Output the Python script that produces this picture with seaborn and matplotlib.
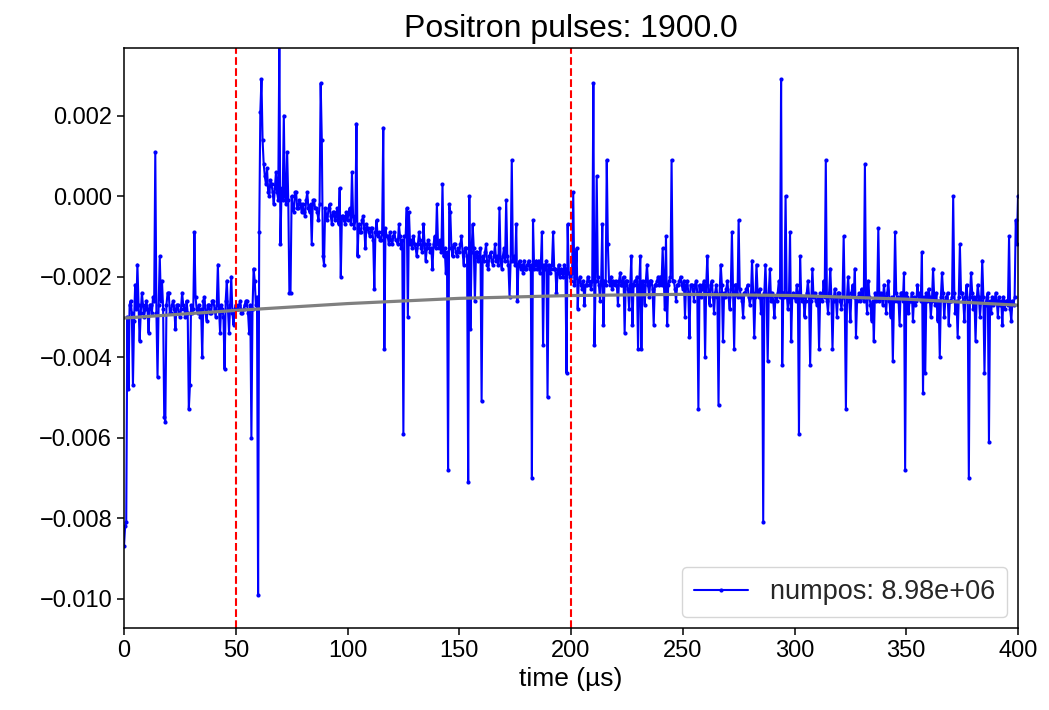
import numpy as np
import pandas as pd
import matplotlib
matplotlib.use("Agg")
import matplotlib.pyplot as plt
import seaborn as sns

# ---- data (signal values in units of 1e-4, one row = 10 us, step 0.5 us) ----
time_us = np.arange(0, 400.5, 0.5)
signal_e4 = [
    -87, -82, -81, -30, -48, -27, -26, -29, -47, -31, -22, -28, -17, -27, -36, -29, -24, -27, -30, -28,
    -26, -28, -34, -27, -27, -29, -25, -26, 11, -29, -45, -27, -15, -26, -21, -28, -55, -56, -27, -24,
    -24, -29, -29, -27, -26, -28, -33, -27, -27, -29, -30, -28, -24, -27, -28, -30, -26, -29, -53, -47,
    -27, -29, -28, -9, -25, -28, -29, -27, -30, -28, -40, -26, -25, -29, -31, -27, -27, -29, -29, -26,
    -26, -28, -30, -27, -17, -28, -34, -27, -28, -30, -43, -26, -21, -28, -34, -27, -20, -29, -32, -28,
    -27, -28, -28, -27, -26, -29, -29, -28, -27, -26, -26, -29, -34, -27, -60, -28, -18, -21, -27, -25,
    -99, -9, 21, 29, 14, 8, 5, 3, 7, 1, 0, 4, 3, 1, -2, 2, 6, 1, -1, 38,
    -12, 2, -1, 20, 0, -2, 11, -1, -24, -24, 0, -3, -4, 1, 1, -3, -3, -1, -2, -4,
    -2, -4, -5, -1, 1, -3, -4, -2, -12, -1, -1, -3, -3, -4, -6, -2, 28, 14, -15, -17,
    -3, -5, -6, -3, -2, -5, -7, -4, -4, -6, -5, -3, -7, 2, -20, -5, -5, -6, -7, -4,
    -6, -4, -3, -7, 6, -5, -8, -6, 18, -15, -7, -9, -9, -6, -5, -8, -13, -7, -8, -9,
    -10, -8, -8, -11, -23, -9, -6, -10, -9, -11, -11, -9, 17, -38, -8, -10, -10, -12, -9, -11,
    -12, -10, -9, -11, -11, -12, -7, -10, -13, -11, -59, -10, -10, -3, -30, -4, -12, -11, -13, -10,
    -12, -13, -15, -12, -9, -11, -13, -14, -7, -12, -16, -13, -11, -12, -14, -13, -18, -12, -10, -13,
    -2, -12, -13, -11, -14, 3, -15, -13, -19, -14, -68, -2, -4, -13, -15, -12, -12, -14, -15, -13,
    -14, -12, -10, -14, -17, -13, -13, -15, -71, 0, -33, -14, -7, -13, -26, -14, -14, -16, -15, -13,
    -51, -15, -16, -14, -12, -17, -18, -15, -14, -16, -17, -15, -12, -16, -15, -17, -3, -16, -18, -15,
    -13, -16, -1, -15, -17, -25, -16, 9, -16, -15, -17, -7, -26, -17, -16, -18, -17, -19, -16, -18,
    -18, -17, -16, -18, -17, -70, -6, -18, -17, -16, -18, -16, -19, -17, -9, -37, -17, -18, -16, -50,
    -17, -19, -18, -17, -9, -18, -18, -24, -19, -17, -20, -18, -19, -20, -17, -18, -44, -7, -19, -20,
    -21, -19, 1, -22, -20, -13, -28, -21, -20, -22, -23, -21, -27, -22, -22, -20, -21, -22, -23, -21,
    28, -37, -21, 5, -20, -22, -26, -21, -7, -32, -21, -22, 9, -12, -21, -22, -20, -23, -21, -22,
    -21, -22, -27, -21, -19, -22, -22, -20, -34, -21, -21, -23, -28, -22, -15, -32, -22, -21, -21, -20,
    -38, -22, -15, -38, -21, -22, -27, -21, -17, -22, -25, -21, -21, -23, -32, -22, -22, -21, -20, -22,
    -20, -22, -13, -21, -28, -10, -32, -22, -21, -20, 9, -21, -21, -23, -26, -22, -22, -21, -20, -22,
    -23, -21, -30, -22, -21, -24, -35, -22, -22, -23, -26, -22, -21, -24, -53, -22, -25, -23, -22, -21,
    -40, -22, -15, -24, -27, -22, -21, -25, -29, -24, -22, -25, -52, -24, -17, -22, -36, -24, -25, -23,
    -21, -25, -28, -23, -9, -24, -38, -22, -22, -25, -6, -23, -25, -26, -30, -24, -24, -23, -22, -25,
    -27, -25, -16, -24, -35, -25, -17, -24, -25, -23, -29, -25, -81, -24, -17, -25, -41, -24, -18, -26,
    -24, -26, -30, -25, -26, -24, -21, -25, 29, -42, -24, -25, 0, -24, -28, -26, -9, -36, -25, -24,
    -25, -26, -22, -24, -59, -15, -25, -26, -25, -30, -26, -24, -21, -25, -42, -26, -18, -25, -24, -26,
    -27, -25, -38, -24, -25, -26, -21, -25, 9, -26, -29, -24, -18, -25, -38, -26, -23, -25, -30, -24,
    -24, -26, -28, -25, -10, -27, -53, -25, -20, -26, -31, -24, -22, -25, -18, -35, -26, -25, -24, -26,
    -23, -25, -26, 8, -25, -29, -21, -25, -27, -31, -26, -36, -24, -26, -25, -8, -26, -24, -25, -27,
    -22, -25, -29, -24, -21, -26, -30, -25, -41, -26, -9, -24, -26, -25, -32, -24, -24, -26, -19, -68,
    -24, -25, -29, -26, -26, -24, -31, -25, -27, -26, -22, -25, -24, -26, -14, -49, -25, -44, -24, -26,
    -23, -25, -30, -26, -18, -25, -27, -24, -31, -26, -40, -25, -19, -24, -30, -26, -25, -24, -32, -26,
    -26, -25, 0, -24, -29, -26, -35, -25, -12, -24, -24, -26, -31, -25, -22, -26, -70, -25, -19, -24,
    -28, -25, -36, -26, -22, -25, -30, -26, -16, -25, -44, -27, -25, -24, -61, -26, -29, -25, -27, -26,
    -24, -26, -30, -25, -27, -26, -32, -25, -28, -26, -26, -27, -10, -28, -31, -26, -27, -25, -6, -12,
    0,
]
assert len(signal_e4) == len(time_us)

# smooth fit curve (units of 1e-4)
fit_t = [0, 50, 100, 150, 200, 250, 300, 350, 400]
fit_e4 = [-30.3, -28.4, -26.7, -25.4, -24.7, -24.4, -24.7, -25.6, -27.1]

window_lines = [50, 200]
title_text = "Positron pulses: 1900.0"
legend_text = "numpos: 8.98e+06"
xlabel_text = "time (µs)"

signal = np.array(signal_e4) * 1e-4
fit_v = np.array(fit_e4) * 1e-4
df = pd.DataFrame({"t": time_us, "v": signal})
fit_df = pd.DataFrame({"t": fit_t, "v": fit_v})

sns.set_theme(style="ticks")
plt.rcParams["font.family"] = ["Liberation Sans", "DejaVu Sans"]
plt.rcParams["axes.unicode_minus"] = True

W, H = 1049, 710
fig = plt.figure(figsize=(W / 100, H / 100), dpi=100)
ax = fig.add_axes([124 / W, 1 - 628 / H, (1018 - 124) / W, (628 - 48) / H])

sns.lineplot(data=df, x="t", y="v", ax=ax, color="blue", linewidth=1.5,
             marker="o", markersize=3.0, markeredgewidth=0, label=legend_text,
             estimator=None, sort=False)
sns.lineplot(data=fit_df, x="t", y="v", ax=ax, color="gray", linewidth=2.3,
             estimator=None, sort=False, legend=False)
for xv in window_lines:
    ax.axvline(xv, color="red", linestyle="--", linewidth=1.5)

ax.set_xlim(0, 400)
ax.set_ylim(-0.01073, 0.00368)
ax.set_xticks([0, 50, 100, 150, 200, 250, 300, 350, 400])
ax.set_yticks([-0.010, -0.008, -0.006, -0.004, -0.002, 0.000, 0.002])
ax.set_yticklabels(["\u22120.010", "\u22120.008", "\u22120.006", "\u22120.004",
                    "\u22120.002", "0.000", "0.002"])
ax.tick_params(axis="both", labelsize=17, length=5, width=1.1, color="black",
               labelcolor="black")
for s in ax.spines.values():
    s.set_visible(True)
    s.set_color("black")
    s.set_linewidth(1.1)
ax.set_xlabel(xlabel_text, fontsize=19, color="black", labelpad=4)
ax.set_ylabel("")
ax.set_title(title_text, fontsize=23, color="black", pad=8)
leg = ax.legend(loc="lower right", fontsize=19.5, frameon=True, handlelength=2.0,
                borderpad=0.45, borderaxespad=0.4)
leg.get_frame().set_edgecolor("#cccccc")
leg.get_frame().set_linewidth(1.0)

fig.savefig("out.png", dpi=100)
